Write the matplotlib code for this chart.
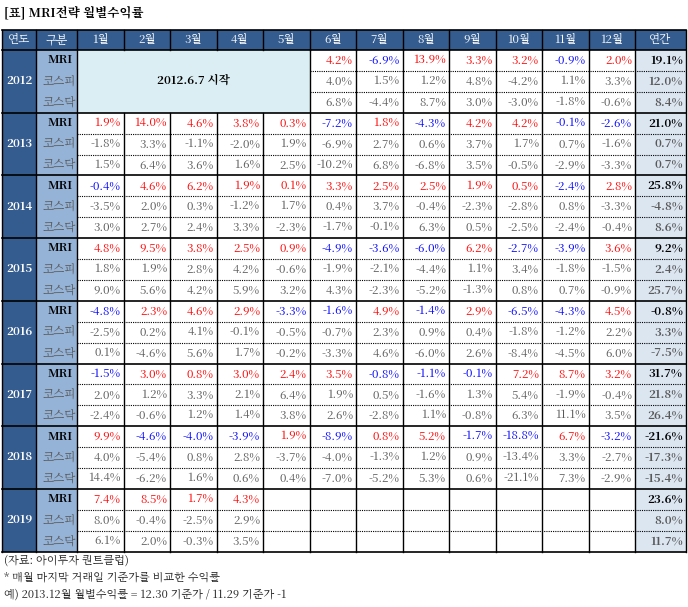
import numpy as np
import matplotlib.pyplot as plt
from matplotlib import font_manager

# find an installed Korean font
cjk = [f.name for f in font_manager.fontManager.ttflist if 'CJK' in f.name]
kr = [n for n in cjk if 'KR' in n] or cjk
plt.rcParams['font.family'] = (kr[:1] if kr else []) + ['DejaVu Sans']

years = ['2012', '2013', '2014', '2015', '2016', '2017', '2018', '2019']
kinds = ['MRI', '코스피', '코스닥']
months = ['1월', '2월', '3월', '4월', '5월', '6월', '7월', '8월', '9월', '10월', '11월', '12월']
N = None

mri = [
    [N, N, N, N, N, 4.2, -6.9, 13.9, 3.3, 3.2, -0.9, 2.0],
    [1.9, 14.0, 4.6, 3.8, 0.3, -7.2, 1.8, -4.3, 4.2, 4.2, -0.1, -2.6],
    [-0.4, 4.6, 6.2, 1.9, 0.1, 3.3, 2.5, 2.5, 1.9, 0.5, -2.4, 2.8],
    [4.8, 9.5, 3.8, 2.5, 0.9, -4.9, -3.6, -6.0, 6.2, -2.7, -3.9, 3.6],
    [-4.8, 2.3, 4.6, 2.9, -3.3, -1.6, 4.9, -1.4, 2.9, -6.5, -4.3, 4.5],
    [-1.5, 3.0, 0.8, 3.0, 2.4, 3.5, -0.8, -1.1, -0.1, 7.2, 8.7, 3.2],
    [9.9, -4.6, -4.0, -3.9, 1.9, -8.9, 0.8, 5.2, -1.7, -18.8, 6.7, -3.2],
    [7.4, 8.5, 1.7, 4.3, N, N, N, N, N, N, N, N],
]
kospi = [
    [N, N, N, N, N, 4.0, 1.5, 1.2, 4.8, -4.2, 1.1, 3.3],
    [-1.8, 3.3, -1.1, -2.0, 1.9, -6.9, 2.7, 0.6, 3.7, 1.7, 0.7, -1.6],
    [-3.5, 2.0, 0.3, -1.2, 1.7, 0.4, 3.7, -0.4, -2.3, -2.8, 0.8, -3.3],
    [1.8, 1.9, 2.8, 4.2, -0.6, -1.9, -2.1, -4.4, 1.1, 3.4, -1.8, -1.5],
    [-2.5, 0.2, 4.1, -0.1, -0.5, -0.7, 2.3, 0.9, 0.4, -1.8, -1.2, 2.2],
    [2.0, 1.2, 3.3, 2.1, 6.4, 1.9, 0.5, -1.6, 1.3, 5.4, -1.9, -0.4],
    [4.0, -5.4, 0.8, 2.8, -3.7, -4.0, -1.3, 1.2, 0.9, -13.4, 3.3, -2.7],
    [8.0, -0.4, -2.5, 2.9, N, N, N, N, N, N, N, N],
]
kosdaq = [
    [N, N, N, N, N, 6.8, -4.4, 8.7, 3.0, -3.0, -1.8, -0.6],
    [1.5, 6.4, 3.6, 1.6, 2.5, -10.2, 6.8, -6.8, 3.5, -0.5, -2.9, -3.3],
    [3.0, 2.7, 2.4, 3.3, -2.3, -1.7, -0.1, 6.3, 0.5, -2.5, -2.4, -0.4],
    [9.0, 5.6, 4.2, 5.9, 3.2, 4.3, -2.3, -5.2, -1.3, 0.8, 0.7, -0.9],
    [0.1, -4.6, 5.6, 1.7, -0.2, -3.3, 4.6, -6.0, 2.6, -8.4, -4.5, 6.0],
    [-2.4, -0.6, 1.2, 1.4, 3.8, 2.6, -2.8, 1.1, -0.8, 6.3, 11.1, 3.5],
    [14.4, -6.2, 1.6, 0.6, 0.4, -7.0, -5.2, 5.3, 0.6, -21.1, 7.3, -2.9],
    [6.1, 2.0, -0.3, 3.5, N, N, N, N, N, N, N, N],
]
annual_mri = [19.1, 21.0, 25.8, 9.2, -0.8, 31.7, -21.6, 23.6]
annual_kospi = [12.0, 0.7, -4.8, 2.4, 3.3, 21.8, -17.3, 8.0]
annual_kosdaq = [8.4, 0.7, 8.6, 25.7, -7.5, 26.4, -15.4, 11.7]

fig = plt.figure(figsize=(6.88, 6.07), dpi=100)
ax = fig.add_axes([0, 0, 1, 1])
ax.set_xlim(0, 688)
ax.set_ylim(607, 0)
ax.axis('off')

DARK = '#345c8f'
LIGHT = '#95b3d7'
ANN = '#dce6f1'
START = '#daeef3'
GREY = '#595959'

x0, x_kind, x_m0, mw, x_ann, x_end = 2, 36, 77, 46.5, 635, 686
y_top, y_head, rh = 30, 50, 20.9
fs = 8.3

ax.text(4, 13, '[표] MRI전략 월별수익률', fontsize=9, fontweight='bold', va='center')

# header
ax.add_patch(plt.Rectangle((x0, y_top), x_end - x0, y_head - y_top, color=DARK, lw=0))
ax.text((x0 + x_kind) / 2, (y_top + y_head) / 2, '연도', color='white', ha='center', va='center', fontsize=fs)
ax.text((x_kind + x_m0) / 2, (y_top + y_head) / 2, '구분', color='white', ha='center', va='center', fontsize=fs)
for j, m in enumerate(months):
    ax.text(x_m0 + mw * (j + 0.5), (y_top + y_head) / 2, m, color='white', ha='center', va='center', fontsize=fs)
ax.text((x_ann + x_end) / 2, (y_top + y_head) / 2, '연간', color='white', ha='center', va='center', fontsize=fs)

y_bot = y_head + rh * 3 * len(years)
ax.add_patch(plt.Rectangle((x0, y_head), x_kind - x0, y_bot - y_head, color=DARK, lw=0))
ax.add_patch(plt.Rectangle((x_kind, y_head), x_m0 - x_kind, y_bot - y_head, color=LIGHT, lw=0))
ax.add_patch(plt.Rectangle((x_ann, y_head), x_end - x_ann, y_bot - y_head, color=ANN, lw=0))
ax.add_patch(plt.Rectangle((x_m0, y_head), mw * 5, rh * 3, color=START, lw=0))
ax.text(x_m0 + mw * 2.5, y_head + rh * 1.5, '2012.6.7 시작', ha='center', va='center', fontsize=fs, fontweight='bold')

for i, yr in enumerate(years):
    yb = y_head + rh * 3 * i
    ax.text((x0 + x_kind) / 2, yb + rh * 1.5, yr, color='white', ha='center', va='center', fontsize=fs, fontweight='bold')
    rows = [(mri[i], annual_mri[i]), (kospi[i], annual_kospi[i]), (kosdaq[i], annual_kosdaq[i])]
    for r, (vals, ann) in enumerate(rows):
        yc = yb + rh * (r + 0.5)
        if r == 0:
            ax.text(x_m0 - 4, yc, kinds[r], ha='right', va='center', fontsize=fs, fontweight='bold')
        else:
            ax.text(x_m0 - 1, yc, kinds[r], ha='right', va='center', fontsize=fs, color=GREY)
        for j, v in enumerate(vals):
            if v is None:
                continue
            if r == 0:
                c = 'red' if v > 0 else 'blue'
            else:
                c = GREY
            ax.text(x_m0 + mw * (j + 1) - 3, yc, f'{v:.1f}%', ha='right', va='center', fontsize=fs, color=c)
        ax.text(x_end - 3, yc, f'{ann:.1f}%', ha='right', va='center', fontsize=fs,
                color='black' if r == 0 else GREY, fontweight='bold')
        if r > 0:
            xs = x_m0 + mw * 5 if i == 0 else x_m0
            ax.plot([xs, x_end], [yb + rh * r] * 2, color='black', lw=0.8, ls=(0, (1, 1)))
    ax.plot([x0, x_end], [yb, yb], color='black', lw=1.2)
ax.plot([x0, x_end], [y_bot, y_bot], color='black', lw=1.2)

# vertical lines (month lines 1-5 skip the merged 2012 cell)
for xv in [x0, x_kind, x_m0, x_ann, x_end]:
    ax.plot([xv, xv], [y_top, y_bot], color='black', lw=1.0)
for k in range(1, 12):
    xv = x_m0 + mw * k
    ys = y_head + rh * 3 if k < 5 else y_head
    ax.plot([xv, xv], [y_top, y_head], color='black', lw=1.0)
    ax.plot([xv, xv], [ys, y_bot], color='black', lw=1.0)
ax.plot([x0, x_end], [y_top, y_top], color='black', lw=1.2)

notes = ['(자료: 아이투자 퀀트클럽)', '* 매월 마지막 거래일 기준가를 비교한 수익률',
         '예) 2013.12월 월별수익률 = 12.30 기준가 / 11.29 기준가 -1']
for k, n in enumerate(notes):
    ax.text(4, 560 + 17 * k, n, fontsize=8, va='center', color='#222222')

fig.savefig('out.png', dpi=100)
